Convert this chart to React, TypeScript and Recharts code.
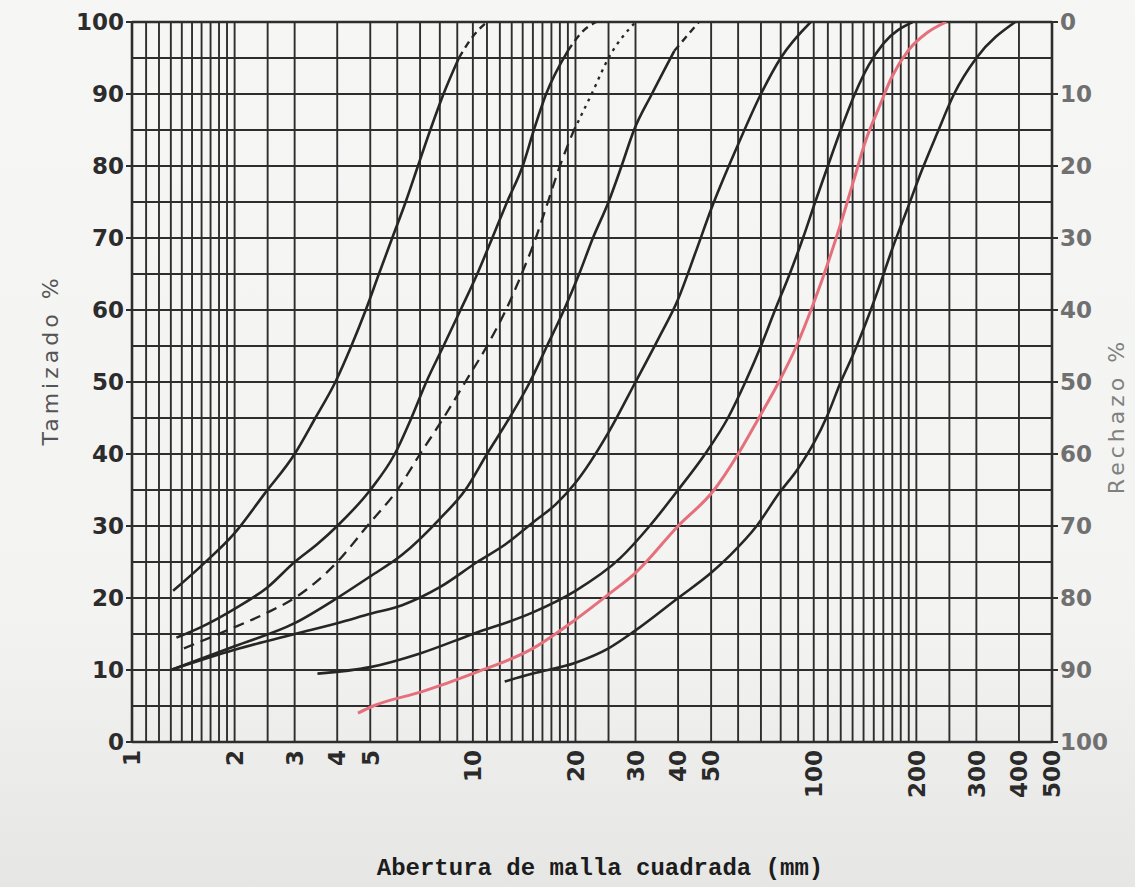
import React from "react";
import { LineChart, Line, XAxis, YAxis, ReferenceLine } from "recharts";

// valores: abertura (mm) -> % tamizado
const curveA = [
  { d: 1.32, p: 21 }, { d: 1.6, p: 24.5 }, { d: 2, p: 29 }, { d: 2.45, p: 34.5 },
  { d: 3, p: 40 }, { d: 3.45, p: 45 }, { d: 3.95, p: 50 }, { d: 4.4, p: 55 },
  { d: 4.85, p: 60 }, { d: 5.3, p: 65 }, { d: 5.8, p: 70 }, { d: 6.35, p: 75 },
  { d: 6.9, p: 80 }, { d: 7.5, p: 85 }, { d: 8.2, p: 90 }, { d: 9.1, p: 95 },
];
const curveATop = [{ d: 9.1, p: 95 }, { d: 10, p: 98 }, { d: 11, p: 100 }];

const curveB = [
  { d: 1.35, p: 14.5 }, { d: 1.6, p: 16 }, { d: 2, p: 18.5 }, { d: 2.5, p: 21.5 },
  { d: 3, p: 25 }, { d: 3.5, p: 27.5 }, { d: 4, p: 30 }, { d: 5, p: 35 },
  { d: 5.9, p: 40 }, { d: 6.6, p: 45 }, { d: 7.3, p: 50 }, { d: 8.2, p: 55 },
  { d: 9.2, p: 60 }, { d: 10.3, p: 65 }, { d: 11.4, p: 70 }, { d: 12.6, p: 75 },
  { d: 14, p: 80 }, { d: 15.1, p: 85 }, { d: 16.4, p: 90 }, { d: 19, p: 96 },
];
const curveBTop = [{ d: 19, p: 96 }, { d: 21, p: 98.7 }, { d: 23, p: 100 }];

const curveC = [
  { d: 1.42, p: 13 }, { d: 1.9, p: 15.5 }, { d: 2.5, p: 18 }, { d: 3, p: 20 },
  { d: 4, p: 25 }, { d: 4.9, p: 30 }, { d: 6, p: 35 }, { d: 7, p: 40 },
  { d: 8.2, p: 45 }, { d: 9.5, p: 50 }, { d: 11, p: 55 }, { d: 12.5, p: 60 },
  { d: 13.9, p: 65 }, { d: 15.3, p: 70 }, { d: 16.6, p: 75 }, { d: 18, p: 80 },
  { d: 19.8, p: 85 },
];
const curveCTop = [{ d: 19.8, p: 85 }, { d: 22.3, p: 90 }, { d: 25, p: 95 }, { d: 30, p: 100 }];

const curveD = [
  { d: 1.3, p: 10 }, { d: 2, p: 13.3 }, { d: 3, p: 16.5 }, { d: 4, p: 20 },
  { d: 5, p: 23 }, { d: 6.2, p: 26 }, { d: 8, p: 31 }, { d: 9.5, p: 35 },
  { d: 11, p: 40 }, { d: 12.8, p: 45 }, { d: 14.7, p: 50 }, { d: 16.5, p: 55 },
  { d: 18.5, p: 60 }, { d: 20.5, p: 65 }, { d: 22.5, p: 70 }, { d: 25, p: 75 },
  { d: 27.3, p: 80 }, { d: 29.7, p: 85 }, { d: 33.5, p: 90 }, { d: 39, p: 96 },
];
const curveDTop = [{ d: 39, p: 96 }, { d: 46, p: 100 }];

const curveE = [
  { d: 1.3, p: 10 }, { d: 2, p: 12.8 }, { d: 3, p: 15 }, { d: 4, p: 16.5 },
  { d: 5, p: 17.8 }, { d: 6.2, p: 19 }, { d: 8, p: 21.5 }, { d: 10.3, p: 25 },
  { d: 12.5, p: 27.5 }, { d: 15, p: 30.5 }, { d: 17.5, p: 33 }, { d: 20, p: 36 },
  { d: 25, p: 43 }, { d: 30, p: 50 }, { d: 35, p: 56 }, { d: 40, p: 61.5 },
  { d: 45, p: 68 }, { d: 50, p: 74 }, { d: 60, p: 83 }, { d: 70, p: 90 },
  { d: 80, p: 95 }, { d: 98, p: 100 },
];

const curveF = [
  { d: 3.5, p: 9.5 }, { d: 5, p: 10.4 }, { d: 7, p: 12.3 }, { d: 10, p: 15 },
  { d: 15, p: 18 }, { d: 20, p: 21 }, { d: 27, p: 25.5 }, { d: 33, p: 30 },
  { d: 40, p: 35 }, { d: 48, p: 40 }, { d: 56, p: 45 }, { d: 63, p: 50 },
  { d: 70, p: 55 }, { d: 77, p: 60 }, { d: 85, p: 65 }, { d: 93, p: 70 },
  { d: 101, p: 75 }, { d: 110, p: 80 }, { d: 120, p: 85 }, { d: 132, p: 90 },
  { d: 145, p: 94 }, { d: 160, p: 97 }, { d: 195, p: 100 },
];

const curveRed = [
  { d: 4.6, p: 4 }, { d: 5.1, p: 5 }, { d: 7.1, p: 7 }, { d: 10, p: 9.5 },
  { d: 15, p: 13 }, { d: 20, p: 17 }, { d: 25, p: 20.5 }, { d: 30, p: 23.5 },
  { d: 40, p: 30 }, { d: 51, p: 35 }, { d: 60, p: 40 }, { d: 69, p: 45 },
  { d: 79, p: 50 }, { d: 89, p: 55 }, { d: 100, p: 61 }, { d: 110, p: 66.5 },
  { d: 120, p: 72 }, { d: 131, p: 78 }, { d: 142, p: 83.5 }, { d: 155, p: 88 },
  { d: 170, p: 92.5 }, { d: 189, p: 96 }, { d: 215, p: 98.5 }, { d: 245, p: 100 },
];

const curveH = [
  { d: 12.4, p: 8.4 }, { d: 15, p: 9.5 }, { d: 20, p: 11 }, { d: 25, p: 13 },
  { d: 30, p: 15.5 }, { d: 40, p: 20 }, { d: 50, p: 23.5 }, { d: 57, p: 26 },
  { d: 68, p: 30 }, { d: 79, p: 34.5 }, { d: 90, p: 38 }, { d: 100, p: 41.5 },
  { d: 110, p: 45.5 }, { d: 120, p: 50 }, { d: 131, p: 54 }, { d: 143, p: 58.5 },
  { d: 155, p: 63 }, { d: 170, p: 68.5 }, { d: 188, p: 74 }, { d: 208, p: 79.5 },
  { d: 230, p: 84.5 }, { d: 258, p: 90 }, { d: 300, p: 95 }, { d: 390, p: 100 },
];

const xTicks = [1, 2, 3, 4, 5, 10, 20, 30, 40, 50, 100, 200, 300, 400, 500];
const yTicks = [0, 10, 20, 30, 40, 50, 60, 70, 80, 90, 100];

const xGrid = [
  1, 1.1, 1.2, 1.3, 1.4, 1.5, 1.6, 1.7, 1.8, 1.9, 2, 2.5, 3, 4, 5, 6, 7, 8, 9,
  10, 11, 12, 13, 14, 15, 16, 17, 18, 19, 20, 25, 30, 40, 50, 60, 70, 80, 90,
  100, 110, 120, 130, 140, 150, 160, 170, 180, 190, 200, 250, 300, 400, 500,
];
const yGrid = [0, 5, 10, 15, 20, 25, 30, 35, 40, 45, 50, 55, 60, 65, 70, 75, 80, 85, 90, 95, 100];

const INK = "#262626";
const GRID = "#2e2e2e";
const RED = "#e5707c";
const NUM_FONT = "DejaVu Sans";

function XTick({ x, y, payload }: any) {
  return (
    <text
      x={x}
      y={y}
      transform={`rotate(-90 ${x} ${y})`}
      textAnchor="end"
      dy="0.36em"
      fontFamily={NUM_FONT}
      fontWeight="bold"
      fontSize={23}
      fill="#2a2a2a"
    >
      {payload.value}
    </text>
  );
}

function SideTitle({ text, cx, cy, color }: any) {
  return (
    <text
      x={cx}
      y={cy}
      transform={`rotate(-90 ${cx} ${cy})`}
      textAnchor="middle"
      dominantBaseline="central"
      fontFamily={NUM_FONT}
      fontSize={22}
      letterSpacing={4}
      fill={color}
    >
      {text}
    </text>
  );
}

export default function App() {
  const solid = { yAxisId: "left", type: "monotone" as const, dataKey: "p", dot: false, isAnimationActive: false };
  return (
    <div
      style={{
        position: "absolute",
        left: 0,
        top: 0,
        width: 1135,
        height: 887,
        background: "linear-gradient(#f6f6f5 0%, #f3f3f2 70%, #e6e6e5 100%)",
      }}
    >
      <LineChart width={1135} height={887} margin={{ top: 22, right: 0, bottom: 0, left: 0 }}>
        <XAxis
          dataKey="d"
          type="number"
          scale="log"
          domain={[1, 500]}
          allowDataOverflow
          ticks={xTicks}
          interval={0}
          tick={<XTick />}
          tickLine={false}
          axisLine={false}
          height={145}
          label={{
            value: "Abertura de malla cuadrada (mm)",
            position: "insideBottom",
            offset: 12,
            dx: 8,
            style: { fontFamily: "Liberation Mono", fontWeight: "bold", fontSize: 24, fill: "#1c1c1c" },
          }}
        />
        <YAxis
          yAxisId="left"
          domain={[0, 100]}
          allowDataOverflow
          ticks={yTicks}
          interval={0}
          width={132}
          axisLine={false}
          tickLine={{ stroke: GRID, strokeWidth: 2 }}
          tick={{ fontFamily: NUM_FONT, fontWeight: "bold", fontSize: 23, fill: "#2c2c2c" }}
          label={<SideTitle text="Tamizado %" cx={50} cy={360} color="#555" />}
        />
        <YAxis
          yAxisId="right"
          orientation="right"
          reversed
          type="number"
          domain={[0, 100]}
          allowDataOverflow
          ticks={yTicks}
          interval={0}
          width={83}
          axisLine={false}
          tickLine={{ stroke: GRID, strokeWidth: 2 }}
          tick={{ fontFamily: NUM_FONT, fontWeight: "bold", fontSize: 23, fill: "#707070" }}
          label={<SideTitle text="Rechazo %" cx={1116} cy={416} color="#808080" />}
        />

        {xGrid.map((v) => (
          <ReferenceLine
            key={"x" + v}
            x={v}
            yAxisId="left"
            stroke={GRID}
            strokeWidth={v === 1 || v === 500 ? 2.6 : 1.9}
            ifOverflow="visible"
          />
        ))}
        {yGrid.map((v) => (
          <ReferenceLine
            key={"y" + v}
            y={v}
            yAxisId="left"
            stroke={GRID}
            strokeWidth={v === 0 || v === 100 ? 2.6 : 1.9}
            ifOverflow="visible"
          />
        ))}

        <Line {...solid} data={curveA} stroke={INK} strokeWidth={2.6} />
        <Line {...solid} data={curveATop} stroke={INK} strokeWidth={2.4} strokeDasharray="7 5" />
        <Line {...solid} data={curveB} stroke={INK} strokeWidth={2.6} />
        <Line {...solid} data={curveBTop} stroke={INK} strokeWidth={2.4} strokeDasharray="7 5" />
        <Line {...solid} data={curveC} stroke={INK} strokeWidth={2.3} strokeDasharray="11 7" />
        <Line {...solid} data={curveCTop} stroke={INK} strokeWidth={2.3} strokeDasharray="3 5" />
        <Line {...solid} data={curveD} stroke={INK} strokeWidth={2.6} />
        <Line {...solid} data={curveDTop} stroke={INK} strokeWidth={2.4} strokeDasharray="7 5" />
        <Line {...solid} data={curveE} stroke={INK} strokeWidth={2.6} />
        <Line {...solid} data={curveF} stroke={INK} strokeWidth={2.6} />
        <Line {...solid} data={curveRed} stroke={RED} strokeWidth={3} />
        <Line {...solid} data={curveH} stroke={INK} strokeWidth={2.6} />
      </LineChart>
    </div>
  );
}
